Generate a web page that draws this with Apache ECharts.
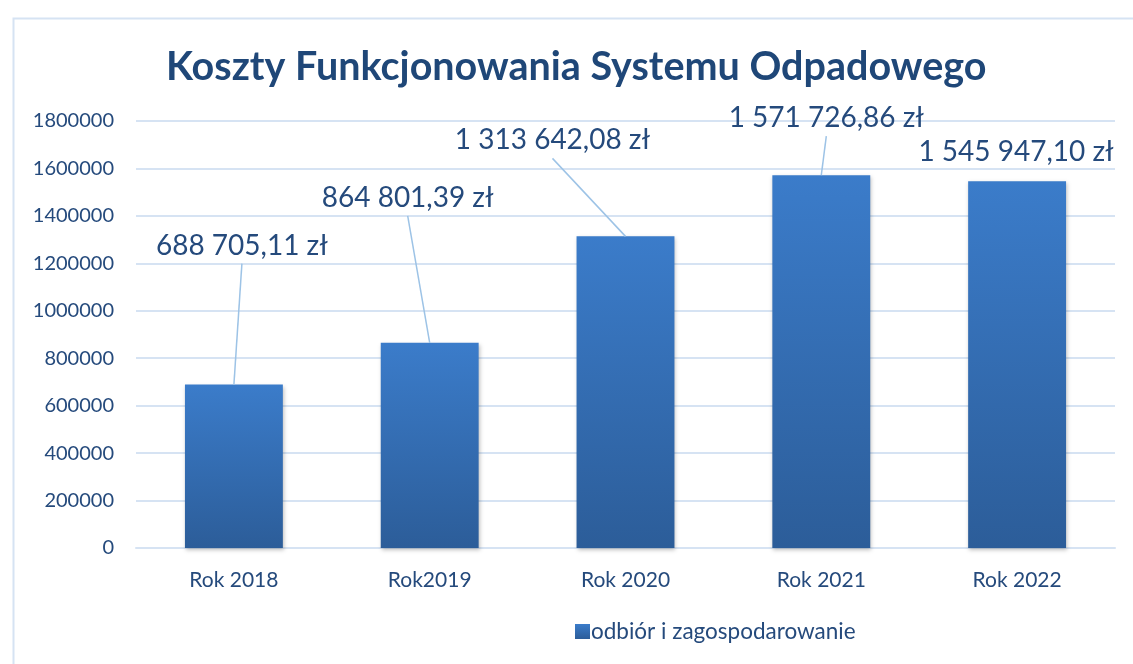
<!DOCTYPE html>
<html>
<head>
<meta charset="utf-8">
<script src="https://cdn.jsdelivr.net/npm/echarts@6/dist/echarts.min.js"></script>
<style>
  html, body { margin: 0; padding: 0; background: #fff; }
  #chart { width: 1133px; height: 664px; }
</style>
</head>
<body>
<div id="chart"></div>
<script>
// dane
const years = ['Rok 2018', 'Rok2019', 'Rok 2020', 'Rok 2021', 'Rok 2022'];
const costs = [688705.11, 864801.39, 1313642.08, 1571726.86, 1545947.10];
const seriesName = 'odbiór i zagospodarowanie';
const yTicks = { min: 0, max: 1800000, interval: 200000 };

// przesunięcia etykiet (dx, dy) względem pozycji domyślnej + czy rysować linię odniesienia
const labelOffsets = [[8, -120], [-22, -126], [-73, -77], [5, -38], [-1, -10]];
const showLeader = [true, true, true, true, false];

const textColor = '#254a7c';
const fontFamily = 'Lato, "Open Sans", sans-serif';

function formatZl(v) {
  const parts = v.toFixed(2).split('.');
  const int = parts[0].replace(/\B(?=(\d{3})+(?!\d))/g, ' ');
  return int + ',' + parts[1] + ' zł';
}

const barGradient = new echarts.graphic.LinearGradient(0, 0, 0, 1, [
  { offset: 0, color: '#3b7cca' },
  { offset: 1, color: '#2c5d99' }
]);

const chart = echarts.init(document.getElementById('chart'));
chart.setOption({
  animation: false,
  textStyle: { fontFamily: fontFamily },
  graphic: [{
    type: 'rect',
    left: 11, top: 16,
    shape: { width: 1140, height: 660 },
    style: { fill: 'none', stroke: '#d6e3f3', lineWidth: 2 },
    silent: true
  }],
  title: {
    text: 'Koszty Funkcjonowania Systemu Odpadowego',
    left: 161,
    top: 42,
    textStyle: { fontSize: 39.5, fontWeight: 'bold', color: '#1f4778', fontFamily: fontFamily }
  },
  grid: { left: 136, right: 18, top: 121, bottom: 116 },
  legend: {
    bottom: 16,
    left: 570,
    itemWidth: 15,
    itemHeight: 15,
    itemGap: 4,
    icon: 'rect',
    textStyle: { fontSize: 22.5, color: textColor, padding: [0, 0, 0, -4] },
    data: [seriesName]
  },
  xAxis: {
    type: 'category',
    data: years,
    axisLine: { show: true, lineStyle: { color: '#d6e3f3', width: 2 } },
    axisTick: { show: false },
    axisLabel: { fontSize: 21, color: textColor, margin: 22 }
  },
  yAxis: {
    type: 'value',
    min: yTicks.min,
    max: yTicks.max,
    interval: yTicks.interval,
    axisLine: { show: false },
    axisTick: { show: false },
    splitLine: { lineStyle: { color: '#d6e3f3', width: 2 } },
    axisLabel: { fontSize: 20, color: textColor, margin: 22, formatter: v => String(v) }
  },
  series: [{
    name: seriesName,
    type: 'bar',
    barWidth: '50%',
    data: costs,
    itemStyle: {
      color: barGradient,
      shadowColor: 'rgba(0,0,0,0.25)',
      shadowBlur: 4,
      shadowOffsetX: 1,
      shadowOffsetY: 2
    },
    label: {
      show: true,
      position: 'top',
      fontSize: 28,
      color: textColor,
      formatter: p => formatZl(p.value)
    },
    labelLayout: p => ({
      dx: labelOffsets[p.dataIndex][0],
      dy: labelOffsets[p.dataIndex][1]
    })
  }, {
    // linie od środka górnej krawędzi słupka do etykiety
    name: 'linie',
    type: 'custom',
    silent: true,
    z: 3,
    data: costs.map((v, i) => [i, v]).filter(d => showLeader[d[0]]),
    renderItem: (params, api) => {
      const i = api.value(0);
      const p = api.coord([i, api.value(1)]);
      const [dx, dy] = labelOffsets[i];
      return {
        type: 'line',
        shape: { x1: p[0], y1: p[1], x2: p[0] + dx, y2: p[1] + dy - 1 },
        style: { stroke: '#9dc3e6', lineWidth: 1.5 }
      };
    }
  }]
});
</script>
</body>
</html>
